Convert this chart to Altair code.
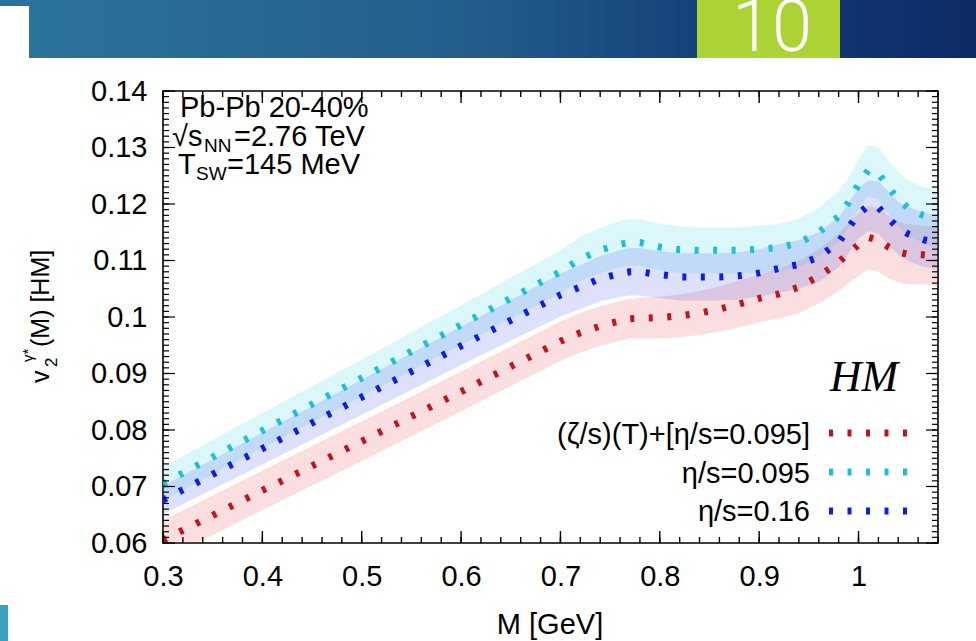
import altair as alt
import pandas as pd
import numpy as np

# ---------------- data ----------------
M = [0.30, 0.40, 0.50, 0.60, 0.70, 0.72, 0.74, 0.76, 0.77, 0.78, 0.80, 0.82, 0.84, 0.86,
     0.88, 0.90, 0.92, 0.94, 0.96, 0.98, 0.99, 1.00, 1.01, 1.02, 1.03, 1.04, 1.05, 1.065, 1.08]

v2_bulk = [0.0605, 0.0693, 0.0780, 0.0868, 0.0957, 0.0972, 0.0984, 0.0993, 0.0997, 0.0998,
           0.0999, 0.1002, 0.1007, 0.1014, 0.1023, 0.1033, 0.1041, 0.1053, 0.1072, 0.1097,
           0.1113, 0.1128, 0.1141, 0.1136, 0.1124, 0.1115, 0.1111, 0.1110, 0.1107]
v2_095 = [0.0705, 0.0799, 0.0892, 0.0986, 0.1080, 0.1103, 0.1118, 0.1129, 0.1132, 0.1132,
          0.1124, 0.1119, 0.1118, 0.1118, 0.1118, 0.1120, 0.1123, 0.1131, 0.1150, 0.1178,
          0.1203, 0.1235, 0.1260, 0.1254, 0.1230, 0.1208, 0.1193, 0.1180, 0.1174]
v2_016 = [0.0676, 0.0767, 0.0858, 0.0949, 0.1039, 0.1053, 0.1068, 0.1077, 0.1080, 0.1080,
          0.1075, 0.1071, 0.1071, 0.1071, 0.1073, 0.1078, 0.1086, 0.1093, 0.1106, 0.1132,
          0.1158, 0.1183, 0.1197, 0.1194, 0.1175, 0.1157, 0.1147, 0.1137, 0.1131]

err_bulk = [0.0035, 0.0035, 0.0035, 0.0035, 0.0035, 0.0035, 0.0035, 0.0035, 0.0035, 0.0036,
            0.0037, 0.0038, 0.0039, 0.0040, 0.0041, 0.0042, 0.0044, 0.0046, 0.0048, 0.0051,
            0.0053, 0.0055, 0.0056, 0.0056, 0.0055, 0.0054, 0.0053, 0.0052, 0.0052]
err_095 = [0.0030, 0.0031, 0.0033, 0.0035, 0.0038, 0.0039, 0.0040, 0.0041, 0.0041, 0.0041,
           0.0041, 0.0041, 0.0041, 0.0041, 0.0041, 0.0042, 0.0042, 0.0043, 0.0043, 0.0044,
           0.0044, 0.0045, 0.0045, 0.0046, 0.0047, 0.0048, 0.0049, 0.0050, 0.0050]
err_016 = [0.0025, 0.0028, 0.0031, 0.0034, 0.0038, 0.0039, 0.0040, 0.0041, 0.0042, 0.0042,
           0.0042, 0.0042, 0.0042, 0.0042, 0.0042, 0.0042, 0.0043, 0.0043, 0.0044, 0.0044,
           0.0045, 0.0045, 0.0045, 0.0046, 0.0047, 0.0047, 0.0048, 0.0048, 0.0048]

series_names = ["(ζ/s)(T)+[η/s=0.095]", "η/s=0.095", "η/s=0.16"]
line_colors = ["#c0141e", "#1ec0d4", "#0a1ee6"]
band_colors = ["#e8474f", "#3fd0e4", "#4a5af0"]

x_ticks_major = [0.3, 0.4, 0.5, 0.6, 0.7, 0.8, 0.9, 1.0]
y_ticks_major = [0.06, 0.07, 0.08, 0.09, 0.10, 0.11, 0.12, 0.13, 0.14]

# ---------------- tables ----------------
rows = []
for name, vals, errs in [(series_names[0], v2_bulk, err_bulk),
                         (series_names[1], v2_095, err_095),
                         (series_names[2], v2_016, err_016)]:
    for m, v, e in zip(M, vals, errs):
        rows.append({"M": m, "v": v, "lo": v - e, "hi": v + e, "series": name})
df = pd.DataFrame(rows)

xmin_t = [round(t, 3) for t in np.arange(0.30, 1.0801, 0.02)]
ymin_t = [round(t, 4) for t in np.arange(0.060, 0.14001, 0.001)]
df_xmaj = pd.DataFrame({"t": x_ticks_major})
df_xmin = pd.DataFrame({"t": xmin_t})
df_ymaj = pd.DataFrame({"t": y_ticks_major})
df_ymin = pd.DataFrame({"t": ymin_t})
dummy = pd.DataFrame({"d": [0]})

W, H = 775, 452
FONT = "Liberation Sans, Arial, sans-serif"
FS = 29

xscale = alt.Scale(domain=[0.3, 1.08], nice=False, zero=False)
yscale = alt.Scale(domain=[0.06, 0.14], nice=False, zero=False)
xaxis = alt.Axis(values=x_ticks_major, format="~g", title=None, domain=False, ticks=False,
                 grid=False, labelFontSize=FS, labelPadding=19, labelFont=FONT,
                 labelColor="black", labelFlush=False)
yaxis = alt.Axis(values=y_ticks_major, format="~g", title=None, domain=False, ticks=False,
                 grid=False, labelFontSize=FS, labelPadding=16, labelFont=FONT,
                 labelColor="black", labelFlush=False)

base = alt.Chart(df)

bands = base.mark_area(opacity=0.18, clip=True).encode(
    x=alt.X("M:Q", scale=xscale, axis=xaxis),
    y=alt.Y("lo:Q", scale=yscale, axis=yaxis),
    y2="hi:Q",
    fill=alt.Fill("series:N", scale=alt.Scale(domain=series_names, range=band_colors), legend=None),
)

lines = base.mark_line(strokeWidth=7, strokeDash=[4, 14.5], strokeCap="butt", clip=True).encode(
    x=alt.X("M:Q", scale=xscale, axis=xaxis),
    y=alt.Y("v:Q", scale=yscale, axis=yaxis),
    stroke=alt.Stroke("series:N", scale=alt.Scale(domain=series_names, range=line_colors), legend=None),
    order="M:Q",
)

# ---------------- gnuplot style inward ticks on all sides ----------------
tick_layers = []
for d, L in [(df_xmaj, 12), (df_xmin, 6)]:
    tick_layers.append(alt.Chart(d).mark_rule(color="black", strokeWidth=1.4).encode(
        x=alt.X("t:Q", scale=xscale, axis=xaxis), y=alt.value(H), y2=alt.value(H - L)))
    tick_layers.append(alt.Chart(d).mark_rule(color="black", strokeWidth=1.4).encode(
        x=alt.X("t:Q", scale=xscale, axis=xaxis), y=alt.value(0), y2=alt.value(L)))
for d, L in [(df_ymaj, 12), (df_ymin, 6)]:
    tick_layers.append(alt.Chart(d).mark_rule(color="black", strokeWidth=1.2).encode(
        y=alt.Y("t:Q", scale=yscale, axis=yaxis), x=alt.value(0), x2=alt.value(L)))
    tick_layers.append(alt.Chart(d).mark_rule(color="black", strokeWidth=1.2).encode(
        y=alt.Y("t:Q", scale=yscale, axis=yaxis), x=alt.value(W), x2=alt.value(W - L)))


def txt(s, x, y, size=FS, align="left", baseline="alphabetic", angle=0, font=FONT,
        color="black", style=None, weight=None):
    kw = dict(text=s, fontSize=size, align=align, baseline=baseline, font=font, color=color)
    if angle:
        kw["angle"] = angle
    if style:
        kw["fontStyle"] = style
    if weight:
        kw["fontWeight"] = weight
    return alt.Chart(dummy).mark_text(**kw).encode(x=alt.value(x), y=alt.value(y))


def rect(x1, x2, y1, y2, fill):
    return alt.Chart(dummy).mark_rect(fill=fill).encode(
        x=alt.value(x1), x2=alt.value(x2), y=alt.value(y1), y2=alt.value(y2))


# ---------------- slide decoration (coordinates relative to plot origin 163,91) -------------
OX, OY = 163, 91
grad = alt.LinearGradient(
    gradient="linear", x1=0, x2=1, y1=0, y2=0,
    stops=[alt.GradientStop(color="#2a7499", offset=0),
           alt.GradientStop(color="#245f8c", offset=0.45),
           alt.GradientStop(color="#15407a", offset=0.72),
           alt.GradientStop(color="#0c2a66", offset=1)])
deco = [
    alt.Chart(dummy).mark_rect(fill=grad).encode(
        x=alt.value(29 - OX), x2=alt.value(976 - OX), y=alt.value(-OY), y2=alt.value(58 - OY)),
    rect(-OX, 29 - OX, -OY, 6 - OY, "#2a7499"),
    rect(697 - OX, 840 - OX, -OY, 58 - OY, "#add235"),
    txt("10", 772 - OX, 51 - OY, size=72, align="center", font="Roboto, Lato, sans-serif",
        color="white", weight=300),
    rect(-OX, 8 - OX, 605 - OY, 641 - OY, "#3ca0be"),
]

# ---------------- annotations ----------------
ann = [
    txt("Pb-Pb 20-40%", 180 - OX, 117 - OY),
    txt("√s", 172 - OX, 146 - OY),
    txt("NN", 204 - OX, 152 - OY, size=19),
    txt("=2.76 TeV", 234 - OX, 146 - OY),
    txt("T", 178 - OX, 174 - OY),
    txt("SW", 196 - OX, 180 - OY, size=19),
    txt("=145 MeV", 227 - OX, 174 - OY),
    txt("HM", 864 - OX, 391 - OY, size=44, align="center",
        font="Liberation Serif, DejaVu Serif, serif", style="italic"),
    txt("M [GeV]", 550 - OX, 634 - OY, size=FS, align="center"),
    # rotated y title
    txt("v", 49 - OX, 383 - OY, size=25, angle=270),
    txt("2", 57 - OX, 367 - OY, size=17, angle=270),
    txt("γ*", 33 - OX, 362 - OY, size=15, angle=270),
    txt("(M) [HM]", 49 - OX, 347 - OY, size=25, angle=270),
]

legend = []
leg_text_y = [444, 483, 521]
leg_dash_y = [433, 472, 511]
for name, col, ty, dy in zip(series_names, line_colors, leg_text_y, leg_dash_y):
    legend.append(txt(name, 810 - OX, ty - OY, align="right"))
    legend.append(alt.Chart(dummy).mark_rule(color=col, strokeWidth=7, strokeDash=[4, 14.5],
                                             strokeCap="butt").encode(
        x=alt.value(829 - OX), x2=alt.value(908 - OX), y=alt.value(dy - OY)))

chart = alt.layer(*deco, bands, lines, *tick_layers, *ann, *legend).properties(
    width=W, height=H,
    padding={"left": 163, "top": 91, "right": 38, "bottom": 98},
    autosize=alt.AutoSizeParams(type="none"),
    background="white",
).configure_view(stroke="black", strokeWidth=1.6)

chart.save("out.html", embed_options={"renderer": "svg", "actions": False})
